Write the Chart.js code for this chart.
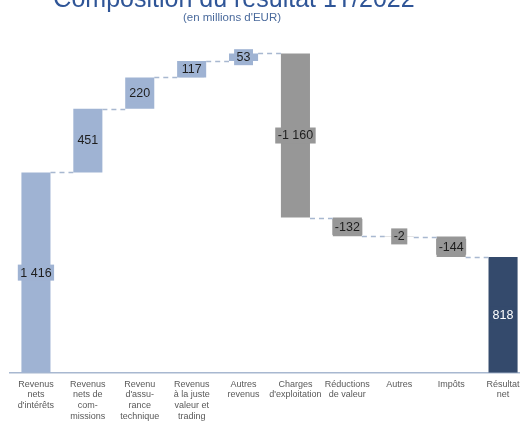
<!DOCTYPE html>
<html>
<head>
<meta charset="utf-8">
<script src="https://cdn.jsdelivr.net/npm/chart.js@4/dist/chart.umd.min.js"></script>
<style>
  body { margin: 0; overflow: hidden; background: #fff; }
  #wrap { width: 529px; height: 428px; position: relative; }
</style>
</head>
<body>
<div id="wrap"><canvas id="waterfall"></canvas></div>
<script>
// Chart data (millions d'EUR)
const categories = [
    ['Revenus', 'nets', "d'intérêts"],
    ['Revenus', 'nets de', 'com-', 'missions'],
    ['Revenu', "d'assu-", 'rance', 'technique'],
    ['Revenus', 'à la juste', 'valeur et', 'trading'],
    ['Autres', 'revenus'],
    ['Charges', "d'exploitation"],
    ['Réductions', 'de valeur'],
    ['Autres'],
    ['Impôts'],
    ['Résultat', 'net']
];
const values = [1416, 451, 220, 117, 53, -1160, -132, -2, -144, 818];
const isTotal = [false, false, false, false, false, false, false, false, false, true];

const titleText = 'Composition du résultat 1T/2022';
const subtitleText = "(en millions d'EUR)";

const colPos = '#9fb3d3';
const colNeg = '#979797';
const colTotal = '#344a6c';
const connectorColor = '#a8b8d0';

// build floating ranges
let running = 0;
const ranges = [];
const levels = []; // level after each bar
values.forEach((v, i) => {
    if (isTotal[i]) {
        ranges.push([0, v]);
        running = v;
    } else {
        ranges.push([running, running + v]);
        running += v;
    }
    levels.push(running);
});
const barColors = values.map((v, i) => isTotal[i] ? colTotal : (v < 0 ? colNeg : colPos));

function fmt(n) {
    const s = Math.abs(n).toString().replace(/\B(?=(\d{3})+(?!\d))/g, ' ');
    return (n < 0 ? '-' : '') + s;
}

const FONT = "'Liberation Sans', Arial, sans-serif";

const titlePlugin = {
    id: 'titles',
    afterDraw(chart) {
        const ctx = chart.ctx;
        ctx.save();
        ctx.textAlign = 'center';
        ctx.textBaseline = 'alphabetic';
        ctx.fillStyle = '#2f5597';
        ctx.font = '25px ' + FONT;
        ctx.fillText(titleText, 234, 7);
        ctx.fillStyle = '#4a6a9c';
        ctx.font = '11.5px ' + FONT;
        ctx.textBaseline = 'middle';
        ctx.fillText(subtitleText, 232, 17.5);
        ctx.restore();
    }
};

const connectorPlugin = {
    id: 'connectors',
    afterDatasetsDraw(chart) {
        const ctx = chart.ctx;
        const meta = chart.getDatasetMeta(0);
        const y = chart.scales.y;
        ctx.save();
        ctx.strokeStyle = connectorColor;
        ctx.lineWidth = 1.5;
        ctx.setLineDash([5, 4]);
        for (let i = 0; i < values.length - 1; i++) {
            const a = meta.data[i], b = meta.data[i + 1];
            const py = Math.round(y.getPixelForValue(levels[i])) + 0.5;
            ctx.beginPath();
            ctx.moveTo(a.x + a.width / 2, py);
            ctx.lineTo(b.x - b.width / 2, py);
            ctx.stroke();
        }
        ctx.restore();
    }
};

const labelPlugin = {
    id: 'barLabels',
    afterDatasetsDraw(chart) {
        const ctx = chart.ctx;
        const meta = chart.getDatasetMeta(0);
        ctx.save();
        ctx.font = '12.5px ' + FONT;
        ctx.textAlign = 'center';
        ctx.textBaseline = 'middle';
        meta.data.forEach((el, i) => {
            const txt = fmt(values[i]);
            const cy = (el.y + el.base) / 2;
            const w = ctx.measureText(txt).width + 5;
            const h = 16;
            ctx.fillStyle = barColors[i];
            ctx.fillRect(el.x - w / 2, cy - h / 2, w, h);
            ctx.fillStyle = isTotal[i] ? '#ffffff' : '#1e1e1e';
            ctx.fillText(txt, el.x, cy + 0.5);
        });
        ctx.restore();
    }
};

const ctx = document.getElementById('waterfall').getContext('2d');
const chart = new Chart(ctx, {
    type: 'bar',
    data: {
        labels: categories,
        datasets: [{
            data: ranges,
            backgroundColor: barColors,
            borderWidth: 0,
            borderSkipped: false,
            barPercentage: 0.56,
            categoryPercentage: 1
        }]
    },
    options: {
        responsive: true,
        maintainAspectRatio: false,
        animation: false,
        layout: { padding: { left: 10, right: 0, top: 40, bottom: 0 } },
        plugins: {
            legend: { display: false },
            tooltip: { enabled: false }
        },
        scales: {
            x: {
                grid: { display: false, drawTicks: false },
                border: { display: true, color: connectorColor, width: 1.5 },
                ticks: {
                    color: '#595959',
                    font: { family: FONT, size: 9, lineHeight: 1.2 },
                    padding: 6,
                    maxRotation: 0,
                    minRotation: 0,
                    autoSkip: false
                }
            },
            y: {
                display: false,
                min: 0,
                max: 2352
            }
        }
    },
    plugins: [connectorPlugin, labelPlugin, titlePlugin]
});
</script>
</body>
</html>
